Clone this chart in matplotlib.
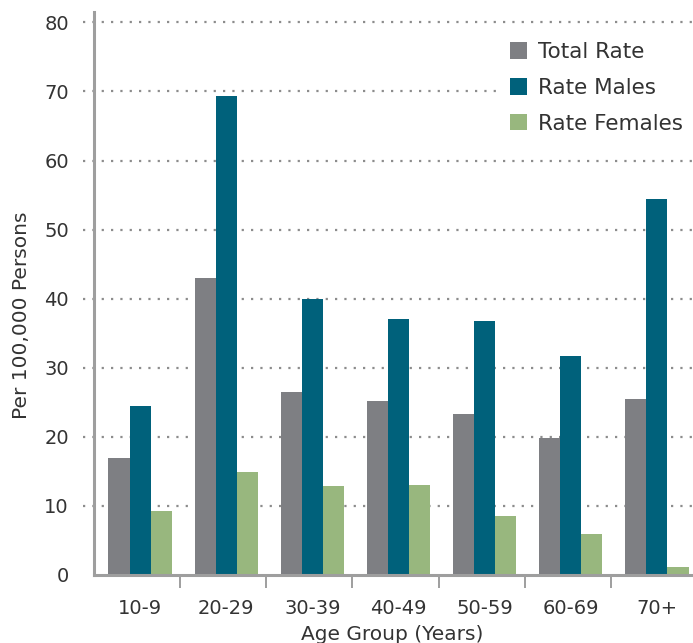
#!/usr/bin/env python3
import numpy as np
import matplotlib
matplotlib.use("Agg")
import matplotlib.pyplot as plt

plt.rcParams['font.family'] = ['DejaVu Sans']
plt.rcParams['font.size'] = 14

# data
age_groups = ['10-9', '20-29', '30-39', '40-49', '50-59', '60-69', '70+']
total_rate = [16.9, 43.0, 26.5, 25.2, 23.3, 19.8, 25.5]
rate_males = [24.5, 69.4, 39.9, 37.1, 36.8, 31.7, 54.4]
rate_females = [9.3, 14.9, 12.9, 13.1, 8.5, 6.0, 1.1]
series_names = ['Total Rate', 'Rate Males', 'Rate Females']
y_ticks = [0, 10, 20, 30, 40, 50, 60, 70, 80]

colors = ['#7e7f83', '#00617b', '#98b77e']
grid_col = '#8c8c8c'
spine_col = '#9e9e9e'
text_col = '#333333'

fig = plt.figure(figsize=(6.93, 6.43), dpi=100)
ax = fig.add_axes([94 / 693, 68 / 643, 603 / 693, 563 / 643])

x = np.arange(len(age_groups))
w = 0.245
shift = 0.035
for k, (vals, name) in enumerate(zip([total_rate, rate_males, rate_females], series_names)):
    ax.bar(x + shift + (k - 1) * w, vals, width=w, color=colors[k],
           label=name, zorder=3, linewidth=0)

ax.set_xlim(-0.5, len(age_groups) - 0.5)
ax.set_ylim(0, 81.5)

# dotted gridlines running a little past the axis
for yv in y_ticks[1:]:
    ax.axhline(yv, xmin=-0.018, xmax=1, color=grid_col, linestyle=(0, (1, 3.2)),
               linewidth=1.6, clip_on=False, zorder=1)

ax.set_yticks(y_ticks)
ax.tick_params(axis='y', length=0, pad=18, labelsize=14, labelcolor=text_col)

# group separators as ticks, labels at group centres
ax.set_xticks(x[1:] - 0.5)
ax.set_xticklabels([])
ax.tick_params(axis='x', which='major', direction='out', length=9,
               width=1.4, color=spine_col)
ax.set_xticks(x + shift, minor=True)
ax.set_xticklabels(age_groups, minor=True)
ax.tick_params(axis='x', which='minor', length=0, pad=17, labelsize=14,
               labelcolor=text_col)

for s in ['top', 'right']:
    ax.spines[s].set_visible(False)
for s in ['left', 'bottom']:
    ax.spines[s].set_color(spine_col)
    ax.spines[s].set_linewidth(2.2)
    ax.spines[s].set_zorder(4)

fig.text(22 / 693, 1 - 315 / 643, 'Per 100,000 Persons', rotation=90,
         ha='center', va='center', fontsize=14.5, color=text_col)
fig.text(392 / 693, 1 - 634 / 643, 'Age Group (Years)',
         ha='center', va='center', fontsize=14.5, color=text_col)

# legend sits on a white box that hides the gridlines behind it
leg = ax.legend(loc='upper left', bbox_to_anchor=(496 / 693, 1 - 28 / 643),
                bbox_transform=fig.transFigure, frameon=True, fancybox=False,
                facecolor='white', edgecolor='none', framealpha=1,
                fontsize=15.5, handlelength=0.8, handleheight=0.8,
                handletextpad=0.5, labelspacing=0.73, borderpad=0.66,
                borderaxespad=0)
for t in leg.get_texts():
    t.set_color(text_col)

fig.savefig('out.png', dpi=100)
